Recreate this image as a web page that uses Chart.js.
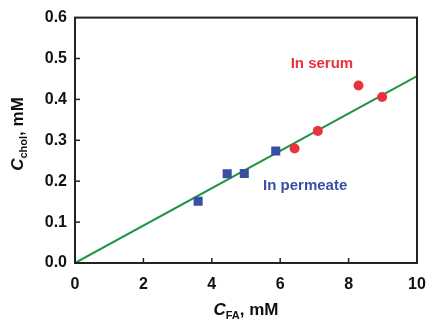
<!DOCTYPE html>
<html><head><meta charset="utf-8">
<script src="https://cdn.jsdelivr.net/npm/chart.js@4/dist/chart.umd.min.js"></script>
<style>html,body{margin:0;padding:0;background:#fff;}#wrap{width:427px;height:321px;position:relative;}</style>
</head><body><div id="wrap"><canvas id="c" width="427" height="321"></canvas></div>
<script>
const permeateX = [3.6, 4.45, 4.95, 5.87];
const permeateY = [0.151, 0.218, 0.219, 0.274];
const serumX = [6.42, 7.1, 8.29, 8.98];
const serumY = [0.280, 0.323, 0.434, 0.406];
const fitX = [0, 10];
const fitY = [0, 0.457];
const xTicks = [0, 2, 4, 6, 8, 10];
const yTicks = [0.0, 0.1, 0.2, 0.3, 0.4, 0.5, 0.6];
const labelSerum = {text: 'In serum', x: 7.22, y: 0.488};
const labelPermeate = {text: 'In permeate', x: 6.73, y: 0.189};

const RED = '#e8323c', BLUE = '#3a4fa3', GREEN = '#1e9444', AXIS = '#222';
const FONT = '"Liberation Sans", Arial, sans-serif';

const toPts = (xs, ys) => xs.map((x, i) => ({x, y: ys[i]}));

const decor = {
  id: 'decor',
  afterDraw(chart) {
    const {ctx, chartArea: a, scales: {x, y}} = chart;
    ctx.save();
    ctx.strokeStyle = AXIS; ctx.lineWidth = 1.5;
    xTicks.forEach(v => { if (v === 0 || v === 10) return; const px = x.getPixelForValue(v);
      ctx.beginPath(); ctx.moveTo(px, a.bottom); ctx.lineTo(px, a.bottom - 5); ctx.stroke(); });
    yTicks.forEach(v => { if (v === 0 || v === 0.6) return; const py = y.getPixelForValue(v);
      ctx.beginPath(); ctx.moveTo(a.left, py); ctx.lineTo(a.left + 5, py); ctx.stroke(); });
    ctx.lineWidth = 2;
    ctx.strokeRect(a.left, a.top, a.right - a.left, a.bottom - a.top);
    ctx.font = 'bold 15px ' + FONT; ctx.textAlign = 'center'; ctx.textBaseline = 'middle';
    ctx.fillStyle = RED; ctx.fillText(labelSerum.text, x.getPixelForValue(labelSerum.x), y.getPixelForValue(labelSerum.y));
    ctx.fillStyle = BLUE; ctx.fillText(labelPermeate.text, x.getPixelForValue(labelPermeate.x), y.getPixelForValue(labelPermeate.y));
    ctx.fillStyle = '#111'; ctx.textAlign = 'left'; ctx.textBaseline = 'alphabetic';
    function title(parts, cx, cy) {
      let w = 0;
      parts.forEach(p => { ctx.font = p.f; w += ctx.measureText(p.t).width; });
      let px = cx - w / 2;
      parts.forEach(p => { ctx.font = p.f; ctx.fillText(p.t, px, cy + (p.dy || 0)); px += ctx.measureText(p.t).width; });
    }
    const xt = [
      {t: 'C', f: 'italic bold 17px ' + FONT},
      {t: 'FA', f: 'bold 11px ' + FONT, dy: 4},
      {t: ', mM', f: 'bold 17px ' + FONT}
    ];
    title(xt, (a.left + a.right) / 2, 315);
    ctx.save();
    ctx.translate(23, 134);
    ctx.rotate(-Math.PI / 2);
    const yt = [
      {t: 'C', f: 'italic bold 17px ' + FONT},
      {t: 'chol', f: 'bold 11px ' + FONT, dy: 4},
      {t: ', mM', f: 'bold 17px ' + FONT}
    ];
    title(yt, 0, 0);
    ctx.restore();
    ctx.restore();
  }
};

new Chart(document.getElementById('c'), {
  type: 'scatter',
  data: {
    datasets: [
      {label: 'fit', type: 'line', data: toPts(fitX, fitY), borderColor: GREEN, borderWidth: 2, pointRadius: 0, fill: false, order: 3},
      {label: 'In permeate', data: toPts(permeateX, permeateY), pointStyle: 'rect', pointRadius: 6.4, backgroundColor: BLUE, borderColor: BLUE, borderWidth: 0, order: 1},
      {label: 'In serum', data: toPts(serumX, serumY), pointStyle: 'circle', pointRadius: 5, backgroundColor: RED, borderColor: RED, borderWidth: 0, order: 2}
    ]
  },
  options: {
    responsive: false, animation: false, devicePixelRatio: 1,
    layout: {padding: {left: 0, right: 0, top: 16, bottom: 0}},
    plugins: {legend: {display: false}, tooltip: {enabled: false}},
    scales: {
      x: {type: 'linear', min: 0, max: 10,
        afterBuildTicks: s => { s.ticks = xTicks.map(v => ({value: v})); },
        afterFit: s => { s.height = 58; s.paddingRight = 10; },
        grid: {display: false, drawTicks: false},
        border: {display: false},
        ticks: {padding: 12, color: '#111', font: {family: FONT, size: 16, weight: 'bold'}}
      },
      y: {type: 'linear', min: 0, max: 0.6,
        afterBuildTicks: s => { s.ticks = yTicks.map(v => ({value: v})); },
        afterFit: s => { s.width = 75; },
        grid: {display: false, drawTicks: false},
        border: {display: false},
        ticks: {padding: 8, color: '#111', font: {family: FONT, size: 16, weight: 'bold'}, callback: v => Number(v).toFixed(1)}
      }
    }
  },
  plugins: [decor]
});
</script></body></html>
